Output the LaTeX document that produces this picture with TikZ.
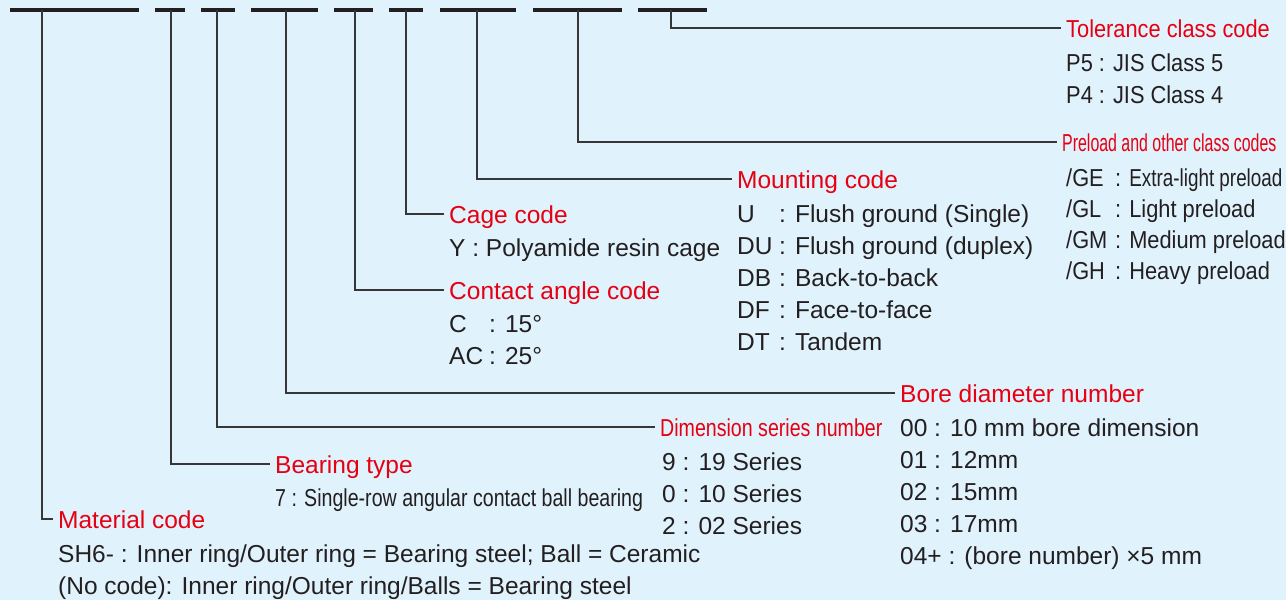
\documentclass[tikz,border=0pt]{standalone}
\usepackage{xcolor}
\usepackage{fontspec}
\usepackage{tikz}
\usetikzlibrary{positioning, calc}
\setmainfont{Liberation Sans}
\newfontfamily\narrowfont[FakeStretch=0.89]{Liberation Sans}
\newfontfamily\condfont[FakeStretch=0.8]{Liberation Sans}
\newfontfamily\xcondfont[FakeStretch=0.77]{Liberation Sans}
\newfontfamily\tightfont[FakeStretch=0.65]{Liberation Sans}
\definecolor{myred}{RGB}{230,0,18}
\definecolor{mydark}{RGB}{35,31,32}
\definecolor{mygray}{RGB}{55,55,55}
\definecolor{hdrblue}{RGB}{224,242,252}
\newcommand{\codebox}[2]{\makebox[#1][l]{#2}}
\tikzset{
  heading/.style={font=\fontsize{24.5}{32}\selectfont, text=myred,
    anchor=base west, inner xsep=5pt, inner ysep=0pt,
    text height=18pt, text depth=0pt},
  entry/.style={font=\fontsize{24.5}{32}\selectfont, text=mydark,
    anchor=base west, align=left, inner xsep=5pt, inner ysep=0pt},
  codebar/.style={line width=4pt, color=mydark},
  line/.style={line width=1.5pt, color=mygray}
}

\begin{document}
\begin{tikzpicture}[x=1pt, y=-1pt]
  \useasboundingbox (0,0) rectangle (1286,600);
  \fill[hdrblue] (0,0) rectangle (1286,600);

  % Code positions
  \draw[codebar] (10,10) -- (139,10);
  \draw[codebar] (155,10) -- (185,10);
  \draw[codebar] (201,10) -- (235,10);
  \draw[codebar] (251,10) -- (318,10);
  \draw[codebar] (334,10) -- (373,10);
  \draw[codebar] (389,10) -- (423,10);
  \draw[codebar] (440,10) -- (516,10);
  \draw[codebar] (533,10) -- (622,10);
  \draw[codebar] (638,10) -- (707,10);
  \coordinate (cMat) at (42,10);
  \coordinate (cType) at (171,10);
  \coordinate (cDim) at (217,10);
  \coordinate (cBore) at (286,10);
  \coordinate (cAngle) at (355,10);
  \coordinate (cCage) at (406,10);
  \coordinate (cMount) at (477,10);
  \coordinate (cPre) at (578,10);
  \coordinate (cTol) at (671,10);

  % Tolerance class (lists sit on the baseline of their last line)
  \node[heading] (tol) at (1061,37) {\narrowfont Tolerance class code};
  \node[entry] (tolList) at ($(tol.base west)+(0,66)$) {\narrowfont P5 : JIS Class 5\\ \narrowfont P4 : JIS Class 4};

  % Preload
  \node[heading] (pre) at (1057,151) {\tightfont Preload and other class codes};
  \node[entry, font=\fontsize{24.5}{31}\selectfont] (preList) at ($(pre.base west)+(4,128)$) {%
    \narrowfont\codebox{49pt}{/GE}: {\xcondfont Extra-light preload}\\
    \narrowfont\codebox{49pt}{/GL}: Light preload\\
    \narrowfont\codebox{49pt}{/GM}: Medium preload\\
    \narrowfont\codebox{49pt}{/GH}: Heavy preload};

  % Mounting
  \node[heading] (mnt) at (732,188) {Mounting code};
  \node[entry] (mntList) at ($(mnt.base west)+(0,162)$) {%
    \codebox{42pt}{U}: Flush ground (Single)\\
    \codebox{42pt}{DU}: Flush ground (duplex)\\
    \codebox{42pt}{DB}: Back-to-back\\
    \codebox{42pt}{DF}: Face-to-face\\
    \codebox{42pt}{DT}: Tandem};

  % Cage
  \node[heading] (cage) at (444,223) {Cage code};
  \node[entry] (cageList) at ($(cage.base west)+(0,33)$) {Y : Polyamide resin cage};

  % Contact angle
  \node[heading] (angle) at (444,299) {Contact angle code};
  \node[entry] (angleList) at ($(angle.base west)+(0,65)$) {%
    \codebox{40pt}{C}: 15°\\
    \codebox{40pt}{AC}: 25°};

  % Bore diameter
  \node[heading] (bore) at (895,402) {Bore diameter number};
  \node[entry] (boreList) at ($(bore.base west)+(0,162)$) {%
    00 : 10 mm bore dimension\\
    01 : 12mm\\
    02 : 15mm\\
    03 : 17mm\\
    04+ : (bore number) ×5 mm};

  % Dimension series
  \node[heading] (dim) at (655,436) {\condfont Dimension series number};
  \node[entry] (dimList) at ($(dim.base west)+(2,98)$) {%
    9 : 19 Series\\
    0 : 10 Series\\
    2 : 02 Series};

  % Bearing type
  \node[heading] (btype) at (270,473) {Bearing type};
  \node[entry] (btypeList) at ($(btype.base west)+(0,33)$) {\condfont 7 : Single-row angular contact ball bearing};

  % Material
  \node[heading] (mat) at (53,528) {Material code};
  \node[entry] (matList) at ($(mat.base west)+(0,66)$) {%
    SH6- : Inner ring/Outer ring = Bearing steel; Ball = Ceramic\\
    (No code): Inner ring/Outer ring/Balls = Bearing steel};

  % Leaders
  \draw[line] (cTol) |- (tol);
  \draw[line] (cPre) |- (pre);
  \draw[line] (cMount) |- (mnt);
  \draw[line] (cCage) |- (cage);
  \draw[line] (cAngle) |- (angle);
  \draw[line] (cBore) |- (bore);
  \draw[line] (cDim) |- (dim);
  \draw[line] (cType) |- (btype);
  \draw[line] (cMat) |- (mat);
\end{tikzpicture}
\end{document}
